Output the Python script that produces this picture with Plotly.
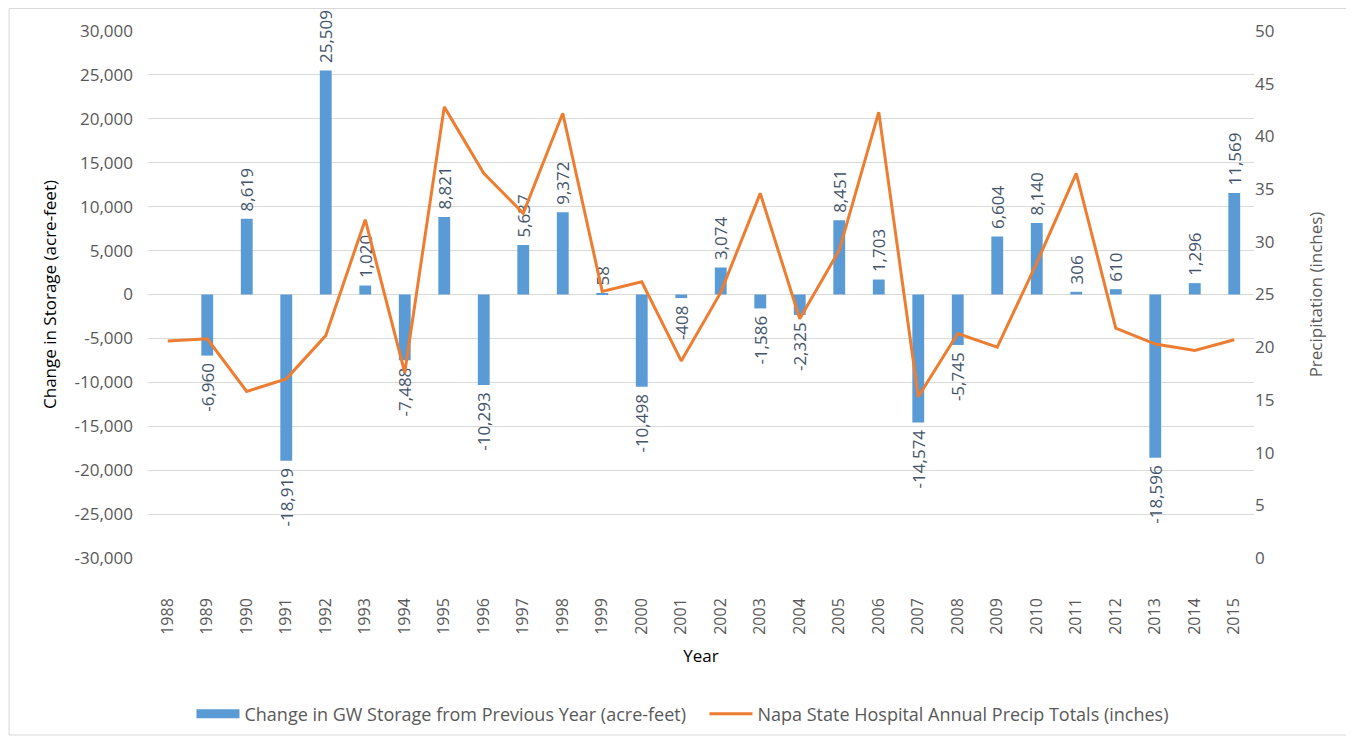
import plotly.graph_objects as go

years = [str(y) for y in range(1988, 2016)]
storage_change = [None, -6960, 8619, -18919, 25509, 1020, -7488, 8821, -10293, 5637,
                  9372, 58, -10498, -408, 3074, -1586, -2325, 8451, 1703, -14574,
                  -5745, 6604, 8140, 306, 610, -18596, 1296, 11569]
precip = [20.6, 20.8, 15.8, 17.0, 21.1, 32.1, 17.6, 42.8, 36.5, 32.7,
          42.2, 25.3, 26.2, 18.7, 25.2, 34.6, 22.7, 29.2, 42.3, 15.3,
          21.3, 20.0, 28.0, 36.5, 21.8, 20.3, 19.7, 20.7]

left_ticks = list(range(-30000, 30001, 5000))
left_tick_text = [f"{v:,}" for v in left_ticks]
right_ticks = list(range(0, 51, 5))

PAD = "\u00a0"
bar_text = ["" if v is None else (PAD + f"{v:,}" if v >= 0 else f"{v:,}" + PAD)
            for v in storage_change]

FONT = "Open Sans, Noto Sans, sans-serif"
GRAY = "#595959"
BLUE = "#5b9bd5"
ORANGE = "#ed7d31"

# page body has an 8px margin; layout below works in screen pixels
OFF = 8
W, H = 1354 - OFF, 742 - OFF
plot_left, plot_right, plot_top, plot_bottom = 147.5, 1254, 31, 558  # screen px
L = plot_left - OFF
R = W - (plot_right - OFF)
T = plot_top - OFF
B = H - (plot_bottom - OFF)
pw, ph = W - L - R, H - T - B


def px(x):
    return (x - OFF - L) / pw


def py(y):
    return (H - B - (y - OFF)) / ph


fig = go.Figure()
fig.add_trace(go.Bar(
    x=years, y=storage_change, name="Change in GW Storage from Previous Year (acre-feet)",
    marker=dict(color=BLUE, line=dict(width=0)),
    text=bar_text, textposition="outside", textangle=-90,
    textfont=dict(family=FONT, size=17, color="#44546a"),
    cliponaxis=False, constraintext="none",
    showlegend=False, legendgroup="gw",
))
# legend swatch for the bars (wide rectangle like the original)
fig.add_trace(go.Scatter(
    x=[years[0]], y=[None], mode="lines",
    name="Change in GW Storage from Previous Year (acre-feet)",
    line=dict(color=BLUE, width=9), legendgroup="gw", hoverinfo="skip",
))
fig.add_trace(go.Scatter(
    x=years, y=precip, yaxis="y2", mode="lines",
    name="Napa State Hospital Annual Precip Totals (inches)",
    line=dict(color=ORANGE, width=3),
))

fig.update_layout(
    width=W, height=H,
    margin=dict(l=L, r=R, t=T, b=B, autoexpand=False),
    paper_bgcolor="white", plot_bgcolor="white",
    font=dict(family=FONT, color=GRAY),
    bargap=0.7,
    showlegend=True,
    legend=dict(orientation="h", x=px(191), xanchor="left", y=py(714), yanchor="middle",
                font=dict(family=FONT, size=18, color=GRAY),
                itemwidth=43, entrywidthmode="pixels", entrywidth=455,
                traceorder="normal"),
    xaxis=dict(
        type="category", tickangle=-90, tickfont=dict(size=16, color=GRAY),
        showgrid=False, showline=False, ticks="", ticklabelstandoff=36,
        title=dict(text="Year", font=dict(size=17, color="#000000"), standoff=16),
    ),
    yaxis=dict(
        range=[-30000, 30000], tickvals=left_ticks, ticktext=left_tick_text,
        tickfont=dict(size=17, color=GRAY), showgrid=True, gridcolor="#d9d9d9",
        gridwidth=1, zeroline=False, showline=False, ticks="", ticklabelstandoff=14,
        title=dict(text="Change in Storage (acre-feet)", font=dict(size=17, color="#000000"),
                   standoff=13),
    ),
    yaxis2=dict(
        range=[0, 50], tickvals=right_ticks, overlaying="y", side="right",
        tickfont=dict(size=17, color=GRAY), showgrid=False, zeroline=False,
        showline=False, ticks="",
        title=dict(text="Precipitation (inches)", font=dict(size=17, color=GRAY),
                   standoff=36),
    ),
    shapes=[dict(type="rect", xref="paper", yref="paper",
                 x0=px(8.5), x1=px(1347), y0=py(735), y1=py(8.5),
                 line=dict(color="#d9d9d9", width=1), fillcolor="rgba(0,0,0,0)",
                 layer="below")],
)

fig.write_html("out.html")
